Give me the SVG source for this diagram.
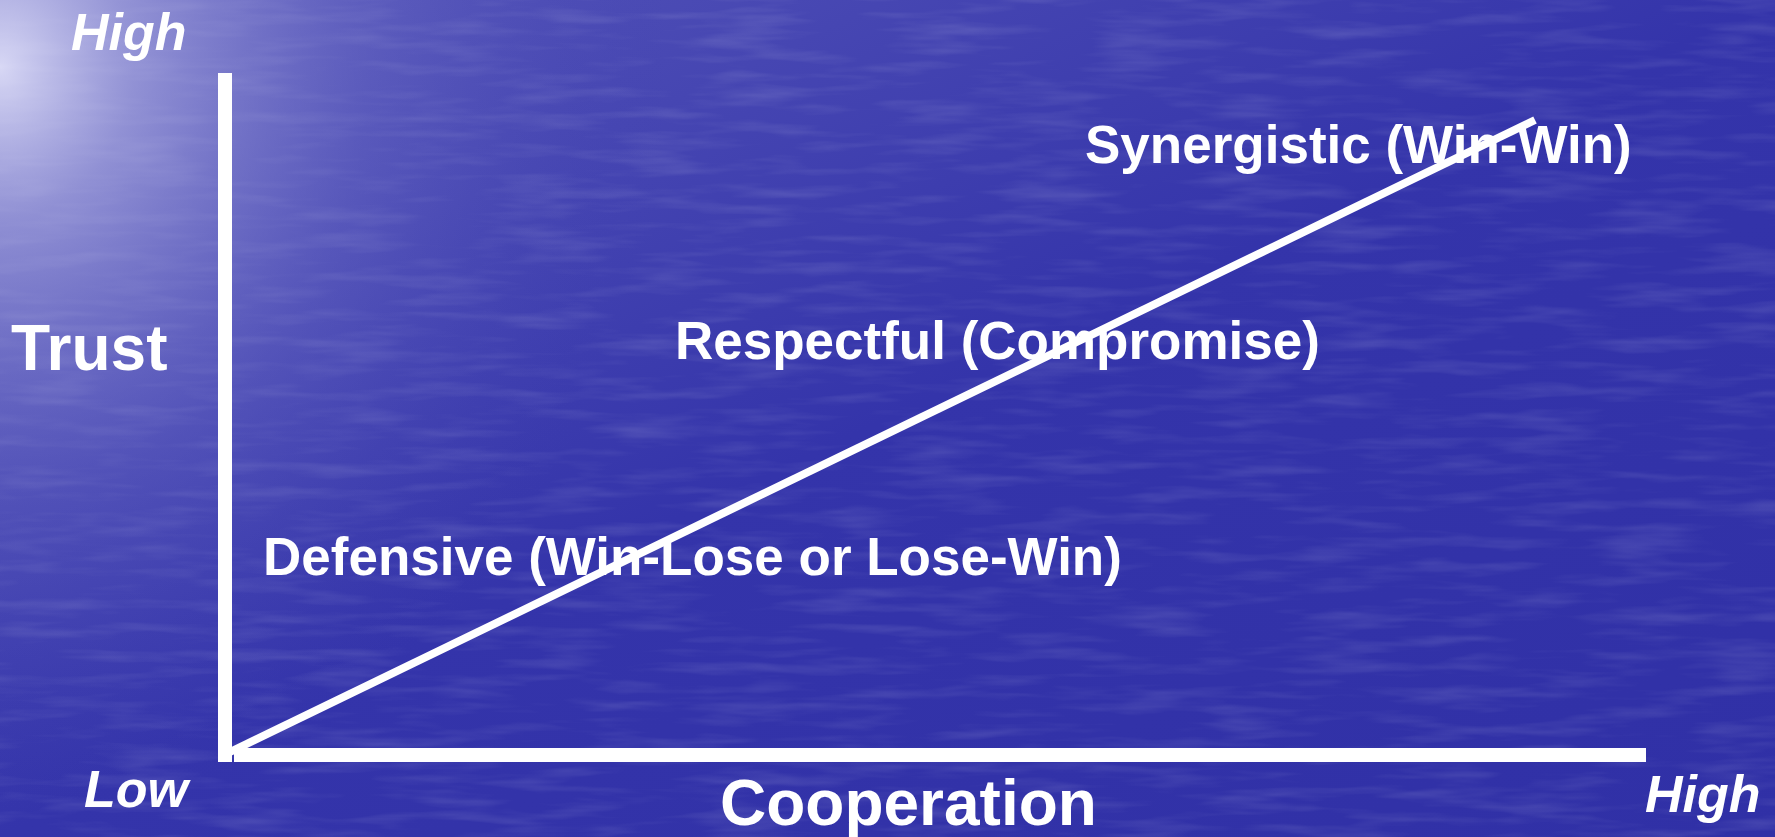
<svg xmlns="http://www.w3.org/2000/svg" width="1775" height="837" viewBox="0 0 1775 837">
  <defs>
    <radialGradient id="glow" cx="0" cy="0.08" r="0.9" gradientUnits="objectBoundingBox" gradientTransform="scale(0.42,1)">
      <stop offset="0" stop-color="#eeeeff" stop-opacity="0.85"/>
      <stop offset="0.2" stop-color="#bcbce8" stop-opacity="0.6"/>
      <stop offset="0.55" stop-color="#7a7acc" stop-opacity="0.3"/>
      <stop offset="1" stop-color="#3a3ab0" stop-opacity="0"/>
    </radialGradient>
    <linearGradient id="base" x1="0" y1="0" x2="1" y2="1">
      <stop offset="0" stop-color="#5858ba"/>
      <stop offset="0.5" stop-color="#3434aa"/>
      <stop offset="1" stop-color="#3030a6"/>
    </linearGradient>
    <filter id="water" x="0" y="0" width="100%" height="100%">
      <feTurbulence type="fractalNoise" baseFrequency="0.01 0.08" numOctaves="3" seed="4" result="n"/>
      <feColorMatrix in="n" type="matrix" values="0 0 0 0 1  0 0 0 0 1  0 0 0 0 1  0 0 0 1.1 -0.5"/>
    </filter>
    <style>
      .lbl { font-family: "Liberation Sans", Arial, sans-serif; font-weight: bold; fill: #ffffff; }
      .it { font-style: italic; font-size: 52px; }
      .axisname { font-size: 64px; }
      .state { font-size: 53px; }
      .axis { fill: #ffffff; }
    </style>
  </defs>

  <g id="background">
    <rect x="0" y="0" width="1775" height="837" fill="url(#base)"/>
    <rect x="0" y="0" width="1775" height="837" filter="url(#water)" opacity="0.22"/>
    <rect x="0" y="0" width="1775" height="837" fill="url(#glow)"/>
  </g>

  <g id="axes">
    <rect id="trust-axis" class="axis" x="218" y="73" width="14" height="689"/>
    <rect id="cooperation-axis" class="axis" x="234" y="748" width="1412" height="14"/>
  </g>

  <g id="connectors">
    <line x1="230" y1="752" x2="1535" y2="120" stroke="#ffffff" stroke-width="8"/>
  </g>

  <g id="trust-high"><text class="lbl it" x="71" y="50">High</text></g>
  <g id="trust-label"><text class="lbl axisname" x="11" y="370">Trust</text></g>
  <g id="low-label"><text class="lbl it" x="84" y="807">Low</text></g>
  <g id="cooperation-high"><text class="lbl it" x="1645" y="812">High</text></g>
  <g id="cooperation-label"><text class="lbl axisname" x="720" y="825">Cooperation</text></g>

  <g id="synergistic"><text class="lbl state" x="1085" y="163">Synergistic (Win-Win)</text></g>
  <g id="respectful"><text class="lbl state" x="675" y="359">Respectful (Compromise)</text></g>
  <g id="defensive"><text class="lbl state" x="263" y="575">Defensive (Win-Lose or Lose-Win)</text></g>
</svg>
